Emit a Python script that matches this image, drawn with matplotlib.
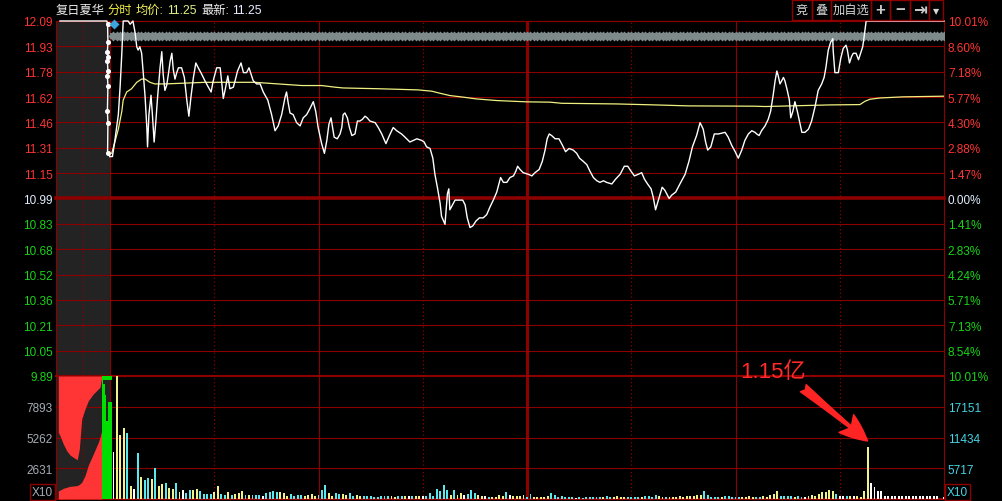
import matplotlib
matplotlib.use("Agg")
import matplotlib.pyplot as plt
from matplotlib.patches import Rectangle
import numpy as np

plt.rcParams["font.family"] = ["Liberation Sans", "Noto Sans CJK SC", "DejaVu Sans"]

# price scale (left) and percent scale (right)
pre_close = 10.99
price_labels = ["9.89", "10.05", "10.21", "10.36", "10.52", "10.68", "10.83", "10.99",
                "11.15", "11.31", "11.46", "11.62", "11.78", "11.93", "12.09"]
pct_labels = ["10.01%", "8.54%", "7.13%", "5.71%", "4.24%", "2.83%", "1.41%", "0.00%",
              "1.47%", "2.88%", "4.30%", "5.77%", "7.18%", "8.60%", "10.01%"]

# intraday price, minutes after 9:30 (lunch break removed)
line_min = [0, 0.7, 1.4, 2.4, 2.9, 3.4, 3.8, 5.2, 5.8, 6.6,
            7.2, 7.7, 8.1, 8.6, 9.1, 9.6, 10.1, 10.6, 10.8, 11.2,
            11.8, 12.2, 12.7, 13.2, 13.7, 14.1, 14.4, 14.9, 15.3, 15.8,
            16.3, 16.8, 17.3, 17.8, 18.2, 18.7, 19.2, 19.7, 20.6, 21.4,
            22.1, 22.7, 23.3, 24.0, 24.7, 25.4, 26.4, 27.3, 28.3, 29.1,
            29.7, 30.7, 31.7, 32.1, 32.6, 33.1, 33.9, 34.5, 35.5, 36.0,
            36.7, 37.7, 38.4, 39.3, 40.0, 40.6, 41.2, 42.2, 43.2, 44.1,
            45.4, 46.5, 47.5, 48.4, 49.4, 50.4, 50.8, 51.3, 51.8, 52.7,
            53.7, 54.7, 55.6, 56.6, 57.6, 58.5, 59.2, 59.9, 60.9, 61.7,
            62.4, 63.0, 63.6, 64.5, 65.4, 66.2, 66.7, 67.1, 67.6, 68.3,
            68.9, 69.6, 70.5, 71.2, 71.9, 72.6, 73.4, 74.0, 74.8, 76.3,
            77.2, 78.2, 79.4, 80.4, 81.5, 82.5, 83.9, 84.9, 86.3, 87.3,
            88.3, 89.7, 90.4, 91.1, 92.1, 92.9, 93.5, 94.2, 95.0, 95.4,
            96.4, 97.1, 97.5, 97.8, 98.3, 99.3, 100.5, 101.5, 102.2, 102.8,
            103.6, 104.4, 105.3, 106.3, 107.4, 108.4, 109.4, 110.3, 111.3, 112.4,
            113.2, 114.2, 115.1, 116.1, 116.8, 117.3, 118.0, 118.9, 120.4, 121.4,
            122.3, 123.5, 124.4, 125.2, 125.8, 126.4, 127.1, 128.1, 129.2, 130.2,
            131.1, 132.1, 133.3, 134.3, 135.1, 136.2, 137.2, 138.1, 139.1, 140.1,
            141.0, 142.0, 142.9, 144.4, 145.5, 146.8, 148.0, 149.0, 149.9, 150.9,
            152.0, 153.0, 153.8, 154.7, 155.7, 156.3, 157.0, 157.8, 158.9, 159.7,
            160.9, 161.6, 162.8, 164.0, 165.5, 166.6, 167.6, 168.8, 169.8, 170.7,
            171.4, 172.0, 172.9, 173.9, 175.1, 177.0, 177.9, 178.9, 179.9, 180.8,
            181.8, 182.7, 183.7, 184.7, 185.6, 186.1, 186.8, 187.5, 188.5, 189.4,
            190.1, 190.9, 191.4, 191.9, 192.3, 192.8, 193.3, 193.8, 194.2, 194.9,
            195.5, 195.9, 196.5, 197.1, 197.8, 198.4, 199.1, 200.0, 201.0, 201.9,
            202.9, 203.8, 204.8, 205.5, 206.0, 206.7, 207.4, 208.0, 208.1, 208.6,
            209.6, 210.3, 211.0, 211.8, 212.2, 212.8, 213.4, 213.9, 214.7, 215.4,
            216.0, 216.6, 217.0, 217.6, 240]
line_price = [11.25, 11.25, 11.35, 11.51, 11.68, 11.89, 12.09, 12.09, 12.07, 12.09,
              12.02, 11.93, 11.91, 11.93, 11.89, 11.76, 11.62, 11.43, 11.31, 11.51,
              11.63, 11.51, 11.34, 11.47, 11.62, 11.72, 11.80, 11.90, 11.76, 11.66,
              11.69, 11.76, 11.84, 11.89, 11.79, 11.73, 11.77, 11.80, 11.80, 11.74,
              11.60, 11.50, 11.62, 11.74, 11.83, 11.80, 11.76, 11.72, 11.68, 11.65,
              11.72, 11.80, 11.80, 11.72, 11.61, 11.66, 11.75, 11.67, 11.68, 11.72,
              11.78, 11.83, 11.77, 11.77, 11.80, 11.76, 11.72, 11.70, 11.70, 11.65,
              11.60, 11.51, 11.41, 11.44, 11.51, 11.62, 11.65, 11.58, 11.52, 11.51,
              11.46, 11.44, 11.49, 11.51, 11.55, 11.59, 11.53, 11.43, 11.33, 11.27,
              11.35, 11.45, 11.49, 11.37, 11.36, 11.39, 11.43, 11.51, 11.52, 11.49,
              11.43, 11.38, 11.39, 11.47, 11.47, 11.48, 11.50, 11.49, 11.47, 11.46,
              11.43, 11.39, 11.33, 11.38, 11.43, 11.41, 11.39, 11.37, 11.34, 11.35,
              11.36, 11.35, 11.34, 11.31, 11.30, 11.24, 11.14, 11.06, 10.96, 10.88,
              10.83, 11.02, 11.05, 10.92, 10.94, 10.98, 10.98, 10.98, 10.95, 10.87,
              10.81, 10.82, 10.85, 10.87, 10.87, 10.89, 10.94, 10.98, 11.03, 11.12,
              11.09, 11.09, 11.12, 11.13, 11.16, 11.19, 11.17, 11.15, 11.14, 11.13,
              11.15, 11.17, 11.22, 11.29, 11.36, 11.39, 11.38, 11.36, 11.36, 11.32,
              11.28, 11.30, 11.29, 11.27, 11.24, 11.22, 11.20, 11.16, 11.12, 11.10,
              11.09, 11.10, 11.09, 11.08, 11.11, 11.14, 11.19, 11.19, 11.16, 11.13,
              11.14, 11.15, 11.11, 11.08, 11.05, 11.00, 10.92, 10.98, 11.06, 11.04,
              10.99, 11.01, 11.03, 11.08, 11.14, 11.22, 11.31, 11.38, 11.46, 11.42,
              11.34, 11.29, 11.31, 11.39, 11.39, 11.40, 11.37, 11.32, 11.28, 11.24,
              11.29, 11.35, 11.39, 11.41, 11.40, 11.39, 11.38, 11.41, 11.44, 11.48,
              11.53, 11.64, 11.72, 11.78, 11.75, 11.70, 11.72, 11.74, 11.72, 11.66,
              11.60, 11.49, 11.53, 11.59, 11.53, 11.47, 11.40, 11.40, 11.42, 11.47,
              11.56, 11.66, 11.70, 11.74, 11.80, 11.91, 11.96, 11.98, 11.91, 11.77,
              11.77, 11.86, 11.92, 11.94, 11.91, 11.83, 11.87, 11.89, 11.89, 11.85,
              11.89, 11.93, 11.99, 12.09, 12.09]

# average price line
avg_min = [0.5, 1.4, 2.4, 3.4, 3.8, 4.8, 6.2, 7.7, 9.1, 10.1,
           11.5, 12.9, 15.8, 27.3, 41.7, 48.4, 55.2, 60.9, 64.7, 67.1,
           77.7, 88.7, 92.6, 95.0, 97.8, 101.7, 105.5, 111.3, 119.9, 126.6,
           130.0, 145.8, 156.8, 166.4, 185.6, 188.5, 207.2, 215.8, 217.3, 218.7,
           221.6, 228.3, 240]
avg_price = [11.27, 11.34, 11.42, 11.53, 11.60, 11.65, 11.67, 11.71, 11.73, 11.73,
             11.71, 11.70, 11.70, 11.71, 11.71, 11.70, 11.69, 11.69, 11.68, 11.675,
             11.67, 11.663, 11.655, 11.642, 11.628, 11.618, 11.607, 11.597, 11.589, 11.587,
             11.58, 11.576, 11.57, 11.564, 11.562, 11.56, 11.57, 11.572, 11.593, 11.605,
             11.613, 11.62, 11.624]

# limit-up queue level
queue_level = 12.00

# call auction price path (9:15-9:25)
auc_line_min = [-14.4, -0.9, -0.7, -0.6, -0.75, -0.6, -0.75, -0.6, -0.75, -0.6, -0.75, -0.6, -0.7]
auc_line_price = [12.09, 12.09, 12.07, 11.96, 11.90, 11.87, 11.84, 11.78, 11.75, 11.69, 11.53, 11.46, 11.27]

# call auction volume areas (left scale, x10)
auc_min = [-14.88, -14.39, -13.44, -12.46, -11.51, -10.56, -9.41, -8.83, -8.14, -7.19,
           -6.24, -4.81, -3.37, -2.88, -2.39]
auc_upper = [5707, 5416, 4706, 4133, 3765, 3568, 3363, 4278, 6845, 7700,
             8410, 8984, 9412, 9557, 10412]
auc_lower = [710, 750, 915, 1000, 1087, 1110, 1150, 1250, 1429, 1994,
             2900, 3850, 4850, 5279, 5844]
auc_green_min = [-2.39, -1.9, -1.5, -1.1, -0.6, 0.45]
auc_green = [10400, 9800, 8900, 6700, 8300, 8300]
auc_scale = [2631, 5262, 7893]
auc_top = 10524

# per-minute volume (x10), direction: y up, c down, w flat
vol_val = [8800, 22900, 11900, 13200, 12300, 2470, 1860, 8560, 4150, 3530,
           3900, 3720, 5770, 2470, 2790, 2980, 2050, 1860, 2980, 1360,
           1670, 1120, 1670, 1670, 1860, 1490, 930, 930, 930, 1300,
           2470, 930, 800, 1300, 740, 930, 1120, 1490, 740, 740,
           740, 740, 740, 560, 1120, 1300, 1490, 1300, 1300, 1120,
           560, 930, 560, 740, 740, 560, 740, 930, 560, 740,
           1670, 2600, 1120, 560, 1120, 930, 930, 740, 1120, 560,
           740, 560, 560, 560, 560, 370, 370, 560, 560, 560,
           560, 370, 560, 500, 500, 500, 500, 500, 500, 500,
           500, 1120, 500, 1860, 1490, 2600, 1670, 740, 1670, 740,
           1120, 740, 930, 1670, 1120, 740, 500, 500, 320, 320,
           320, 740, 500, 1300, 740, 500, 500, 500, 740, 320,
           930, 320, 320, 320, 320, 500, 1120, 740, 320, 500,
           320, 320, 320, 130, 320, 130, 320, 320, 320, 320,
           320, 320, 500, 320, 320, 500, 320, 320, 320, 320,
           320, 320, 320, 500, 500, 320, 740, 500, 320, 320,
           320, 320, 320, 500, 320, 500, 500, 500, 740, 740,
           1490, 740, 320, 320, 320, 320, 500, 500, 320, 320,
           320, 320, 320, 500, 320, 320, 320, 500, 320, 740,
           930, 1490, 500, 500, 500, 500, 320, 500, 320, 320,
           500, 740, 500, 930, 1250, 1360, 1670, 1490, 930, 500,
           500, 500, 500, 500, 500, 370, 1430, 9610, 2980, 2170,
           1540, 1430, 500, 620, 500, 500, 620, 500, 500, 620,
           500, 500, 620, 500, 500, 500, 500, 500, 0, 320]
vol_dir = "".join([
    "wyyycywcyc", "cycyycyycy", "wccyyccccy", "yccycyyycy",
    "cccwccccyy", "yccccyyyyc", "ccyyccyycc", "yycccccccc",
    "yyccywcyyw", "cccccccycy", "ywcccyywcy", "yyycwyyyyc",
    "cyyyyycccc", "cccwcccccc", "cyccyyyycc", "ccyccccyyc",
    "yyyyyyyyyy", "cccccycccc", "cyyyyccyyy", "yyccccyccw",
    "yyyyyyyycw", "wcywyyyyww", "wwwwwwwwww", "wwwwwwwwww"])
vol_min = list(range(1, 241))
vol_right_ticks = [5717, 11434, 17151]
vol_top = 22868

# ---------------------------------------------------------------- layout
W, H = 1002, 502
fig = plt.figure(figsize=(W / 100, H / 100), dpi=100, facecolor="black")


def fx(px):
    return px / W


def fy(py):
    return 1 - py / H


grid_c = "#8c0000"
red_c = "#ff3434"
green_c = "#18d418"
white_c = "#e2eeff"

x_left, x_right = -15.54, 240

ax_p = fig.add_axes([fx(56), fy(377), fx(944) - fx(56), fy(22) - fy(377)])
ax_v = fig.add_axes([fx(56), fy(500), fx(944) - fx(56), fy(377) - fy(500)], sharex=ax_p)
for ax in (ax_p, ax_v):
    ax.set_facecolor("black")
    ax.set_xlim(x_left, x_right)
    ax.tick_params(axis="x", bottom=False, labelbottom=False)
    for s in ax.spines.values():
        s.set_color(grid_c)
        s.set_linewidth(0.8)
ax_p.spines["bottom"].set_linewidth(1.5)
ax_v.spines["top"].set_linewidth(1.5)
ax_v.spines["bottom"].set_linewidth(1.5)

# price panel
ylo, yhi = 9.89, 12.09
ax_p.set_ylim(ylo, yhi)
price_pos = np.linspace(ylo, yhi, len(price_labels))
mid = price_labels.index("%.2f" % pre_close)
for i, p in enumerate(price_pos):
    ax_p.axhline(p, color=grid_c, lw=2.6 if i == mid else 0.8, zorder=1, clip_on=False)

ax_pr = ax_p.twinx()
ax_pr.set_ylim(ylo, yhi)
for ax, labs, side_pad in ((ax_p, price_labels, 2.2), (ax_pr, pct_labels, 2.8)):
    ax.set_yticks(price_pos)
    ax.set_yticklabels(labs)
    ax.tick_params(axis="y", length=0, pad=side_pad, labelsize=8.5)
    for i, t in enumerate(ax.get_yticklabels()):
        t.set_color(green_c if i < mid else (white_c if i == mid else red_c))
for s in ax_pr.spines.values():
    s.set_visible(False)

# time grid
for ax in (ax_p, ax_v):
    ax.axvspan(x_left, 0, color="#232323", zorder=0.5, lw=0)
    for m in (0, 60, 180):
        ax.axvline(m, color=grid_c, lw=0.8, zorder=1)
    ax.axvline(120, color=grid_c, lw=2.2, zorder=1)
    for m in (-7.77, 30, 90, 150, 210):
        ax.axvline(m, color=grid_c, lw=0.9, ls=(0, (1, 2)), zorder=1)

# queue band, average, price
ax_p.plot(vol_min, [queue_level] * len(vol_min), color="#7e8a8a", lw=4.2,
          marker="D", ms=4.6, mec="none", zorder=3)
ax_p.plot(avg_min, avg_price, color="#f0f080", lw=0.9, zorder=4)
ax_p.plot(auc_line_min + line_min[:1], auc_line_price + line_price[:1],
          color="white", lw=1.0, zorder=5, clip_on=False)
ax_p.plot(auc_line_min[2:], auc_line_price[2:], ls="none", marker="o", ms=2.6,
          color="white", zorder=6)
ax_p.plot(line_min, line_price, color="white", lw=1.0, zorder=5, clip_on=False)
ax_p.plot([1.06], [12.07], marker="D", ms=5, color="#3aa6dc", mec="none", zorder=7,
          clip_on=False)

# volume panel (right scale) and call auction (left scale)
ax_v.set_ylim(0, vol_top)
for v in vol_right_ticks:
    ax_v.axhline(v, color=grid_c, lw=0.8, zorder=1)
cmap = {"y": "#f2f28a", "c": "#5ae8f0", "w": "#ffffff"}
ax_v.bar(vol_min, vol_val, width=0.55, color=[cmap[d] for d in vol_dir], lw=0, zorder=3)

ax_a = ax_v.twinx()
ax_a.set_ylim(0, auc_top)
ax_a.fill_between(auc_min, auc_upper, auc_top, color=red_c, lw=0, zorder=2)
ax_a.fill_between(auc_min, 0, auc_lower, color=red_c, lw=0, zorder=2)
ax_a.fill_between(auc_green_min, 0, auc_green, step="post", color="#00dd00", lw=0, zorder=2)
ax_a.fill_between(auc_green_min, 10150, auc_top, step="post", color="#00dd00", lw=0, zorder=2)
for s in ax_a.spines.values():
    s.set_visible(False)

ax_v.yaxis.tick_right()
ax_v.set_yticks(vol_right_ticks)
ax_v.set_yticklabels([str(v) for v in vol_right_ticks])
ax_v.tick_params(axis="y", length=0, pad=2.8, labelsize=8.5, labelcolor="#44d4e4")
ax_a.yaxis.tick_left()
ax_a.set_yticks(auc_scale)
ax_a.set_yticklabels([str(v) for v in auc_scale])
ax_a.tick_params(axis="y", length=0, pad=2.2, labelsize=8.5, labelcolor="#a4acb4")

# annotation of the big bar
big = vol_val.index(max(vol_val[120:]))
ax_v.annotate("", xy=(vol_min[big], vol_val[big] + 1170),
              xytext=(vol_min[big] - 18.5, vol_val[big] + 11000),
              arrowprops=dict(arrowstyle="fancy,head_length=0.9,head_width=0.75,tail_width=0.3",
                              color="#ff2424", mutation_scale=22, shrinkA=0, shrinkB=0),
              annotation_clip=False, zorder=8)
ax_v.text(vol_min[big] - 36.6, vol_top * 1.033, "1.15亿", color="#ff2a2a", fontsize=16,
          ha="left", va="center", clip_on=False, zorder=8)

# X10 boxes
box = dict(boxstyle="square,pad=0.15", fc="black", ec=grid_c, lw=1)
fig.text(fx(53), fy(493), "X10", color="#a4acb4", fontsize=8.5, ha="right", va="center", bbox=box)
fig.text(fx(947), fy(493), "X10", color="#44d4e4", fontsize=8.5, ha="left", va="center", bbox=box)

# header
hy = fy(11)
fig.text(fx(56), hy, "复日夏华", color="#eeeeee", fontsize=8.8, va="center")
fig.text(fx(107), hy, "分时", color="#f0f040", fontsize=8.8, va="center")
fig.text(fx(136), hy, "均价:", color="#f0f060", fontsize=8.8, va="center")
fig.text(fx(167), hy, "11.25", color="#e0f088", fontsize=8.8, va="center")
fig.text(fx(201), hy, "最新:", color="#eeeeee", fontsize=8.8, va="center")
fig.text(fx(232), hy, "11.25", color="#e6eeff", fontsize=8.8, va="center")

# toolbar buttons
buttons = [(792, 812, "竞"), (812, 831, "叠"), (831, 871, "加自选"), (871, 890, "+"),
           (890, 910, "−"), (910, 929, "⇥"), (929, 943, "▾")]
for x0, x1, lab in buttons:
    fig.add_artist(Rectangle((fx(x0), fy(21)), fx(x1) - fx(x0), 20 / H,
                             transform=fig.transFigure, fill=False, ec=grid_c, lw=1))
    bold = lab in ("+", "−", "⇥")
    fig.text(fx((x0 + x1) / 2), fy(11), lab, color="#c8c8c8" if bold else "#d8d8d8",
             fontsize=12 if bold else 8.8, fontweight="bold" if bold else "normal",
             ha="center", va="center")

fig.savefig("out.png", dpi=100, facecolor="black")
